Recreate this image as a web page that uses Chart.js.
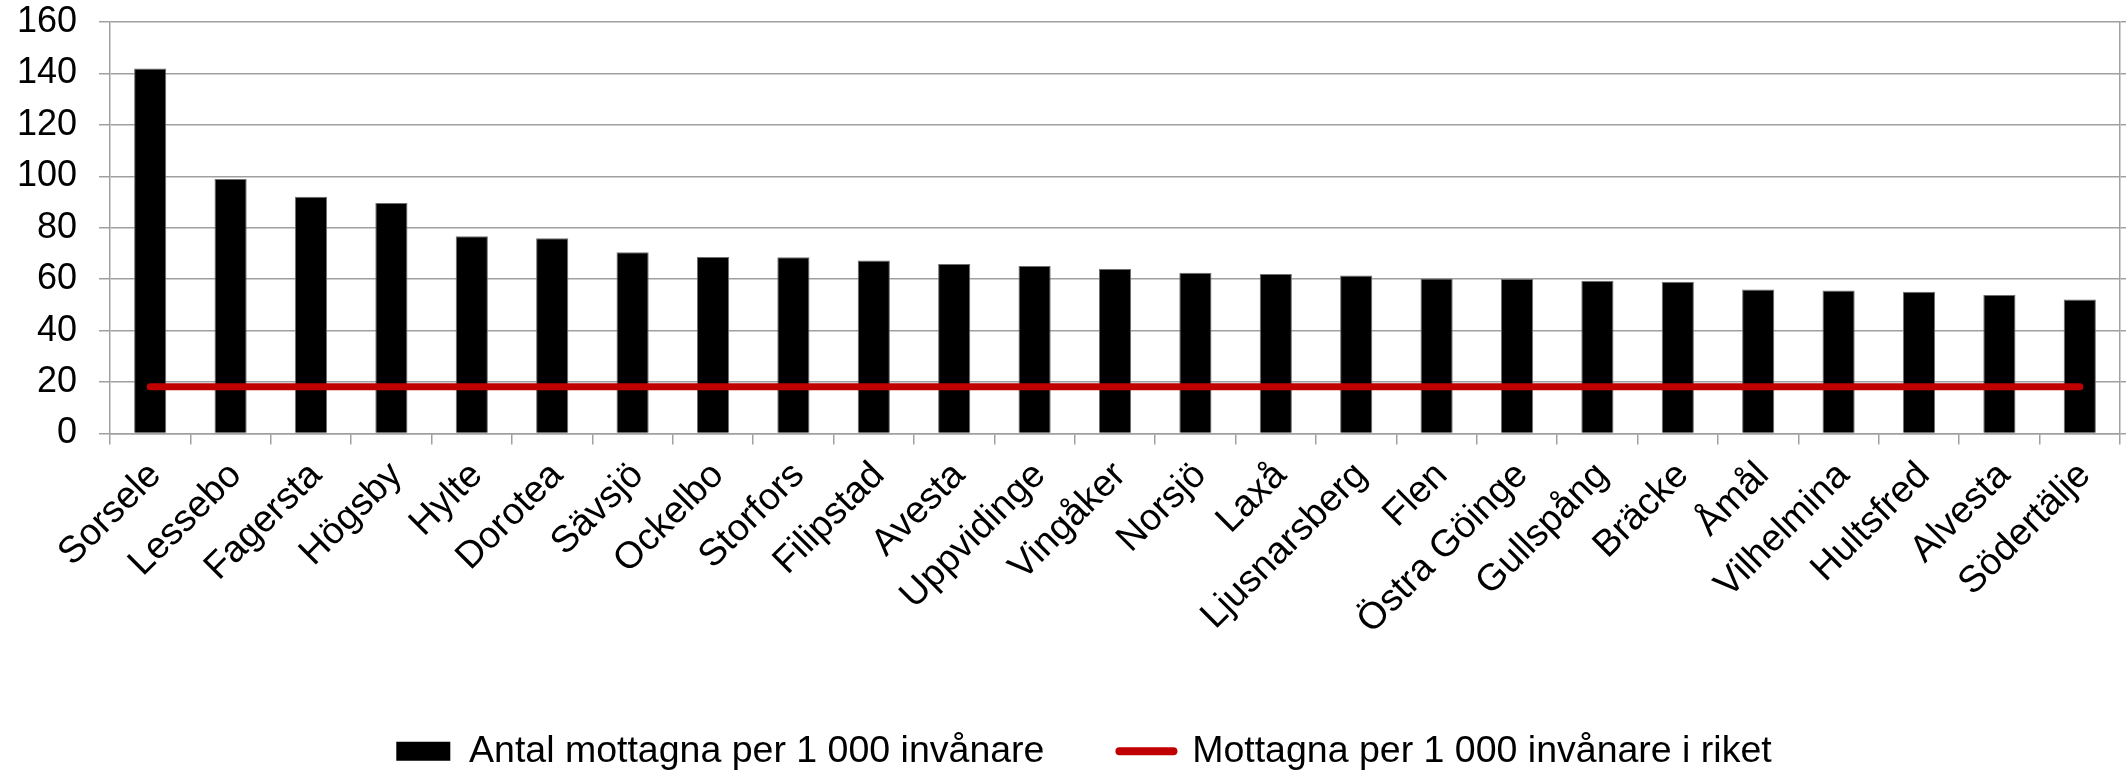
<!DOCTYPE html>
<html>
<head>
<meta charset="utf-8">
<script src="https://cdn.jsdelivr.net/npm/chart.js@4/dist/chart.umd.min.js"></script>
<style>
  html, body { margin: 0; padding: 0; background: #fff; }
  #wrap { width: 2126px; height: 770px; }
</style>
</head>
<body>
<div id="wrap"><canvas id="c" width="2126" height="770"></canvas></div>
<script>
const categories = ["Sorsele","Lessebo","Fagersta","Högsby","Hylte","Dorotea","Sävsjö","Ockelbo","Storfors","Filipstad","Avesta","Uppvidinge","Vingåker","Norsjö","Laxå","Ljusnarsberg","Flen","Östra Göinge","Gullspång","Bräcke","Åmål","Vilhelmina","Hultsfred","Alvesta","Södertälje"];
const municipalValues = [141.9, 99.0, 92.1, 89.6, 76.7, 75.9, 70.5, 68.6, 68.5, 67.3, 65.9, 65.1, 64.0, 62.5, 62.0, 61.4, 60.3, 60.1, 59.4, 59.0, 56.0, 55.6, 55.1, 53.9, 52.1];
const nationalValues = [18.2, 18.2, 18.2, 18.2, 18.2, 18.2, 18.2, 18.2, 18.2, 18.2, 18.2, 18.2, 18.2, 18.2, 18.2, 18.2, 18.2, 18.2, 18.2, 18.2, 18.2, 18.2, 18.2, 18.2, 18.2];
const seriesLabels = ["Antal mottagna per 1 000 invånare", "Mottagna per 1 000 invånare i riket"];
const yTicks = { min: 0, max: 160, step: 20 };

const FONT = "'Liberation Sans', Arial, sans-serif";
const GRID = '#a0a0a0';

new Chart(document.getElementById('c'), {
  data: {
    labels: categories,
    datasets: [
      {
        type: 'line',
        label: seriesLabels[1],
        data: nationalValues,
        borderColor: '#c00000',
        backgroundColor: '#c00000',
        borderWidth: 7,
        borderCapStyle: 'round',
        pointRadius: 0,
        pointHoverRadius: 0,
        order: 0
      },
      {
        type: 'bar',
        label: seriesLabels[0],
        data: municipalValues,
        backgroundColor: '#000000',
        borderColor: '#6e6e6e',
        borderWidth: 1,
        categoryPercentage: 1.0,
        barPercentage: 0.4,
        order: 1
      }
    ]
  },
  options: {
    responsive: false,
    animation: false,
    layout: { padding: { left: 16, top: 0, right: -26, bottom: -10 } },
    plugins: {
      tooltip: { enabled: false },
      legend: {
        position: 'bottom',
        reverse: true,
        labels: {
          color: '#000',
          font: { family: FONT, size: 37.5 },
          usePointStyle: true,
          pointStyleWidth: 54,
          boxHeight: 19,
          padding: 75,
          generateLabels: (chart) => {
            const items = Chart.defaults.plugins.legend.labels.generateLabels(chart);
            items.forEach(it => {
              const ds = chart.data.datasets[it.datasetIndex];
              if (ds.type === 'bar') {
                it.pointStyle = 'rect';
                it.fillStyle = '#000';
                it.strokeStyle = '#000';
                it.lineWidth = 0;
              } else {
                it.pointStyle = 'line';
                it.strokeStyle = '#c00000';
                it.lineWidth = 8;
                it.lineCap = 'round';
              }
            });
            return items;
          }
        }
      }
    },
    scales: {
      x: {
        type: 'category',
        offset: true,
        afterFit: (s) => { s.paddingLeft = 0; s.paddingRight = 0; s.height = 224; },
        grid: {
          offset: true,
          drawOnChartArea: false,
          drawTicks: true,
          tickLength: 11,
          color: GRID,
          lineWidth: 1.5
        },
        border: { display: true, color: GRID, width: 1.5 },
        ticks: {
          color: '#000',
          font: { family: FONT, size: 37.5 },
          maxRotation: 45,
          minRotation: 45,
          autoSkip: false,
          padding: 9,
          labelOffset: 5
        }
      },
      y: {
        min: yTicks.min,
        max: yTicks.max,
        afterFit: (s) => { s.width = 94; s.paddingTop = 22; s.paddingBottom = 0; },
        grid: { color: GRID, lineWidth: 1.5, tickLength: 11 },
        border: { display: true, color: GRID, width: 1.5 },
        ticks: {
          stepSize: yTicks.step,
          color: '#000',
          font: { family: FONT, size: 36 },
          padding: 22
        }
      },
      y2: {
        position: 'right',
        min: yTicks.min,
        max: yTicks.max,
        afterFit: (s) => { s.width = 32; s.paddingTop = 22; s.paddingBottom = 0; },
        grid: { drawOnChartArea: false, color: GRID, lineWidth: 1.5, tickLength: 6 },
        border: { display: true, color: GRID, width: 1.5 },
        ticks: { stepSize: yTicks.step, display: false }
      }
    }
  }
});
</script>
</body>
</html>
